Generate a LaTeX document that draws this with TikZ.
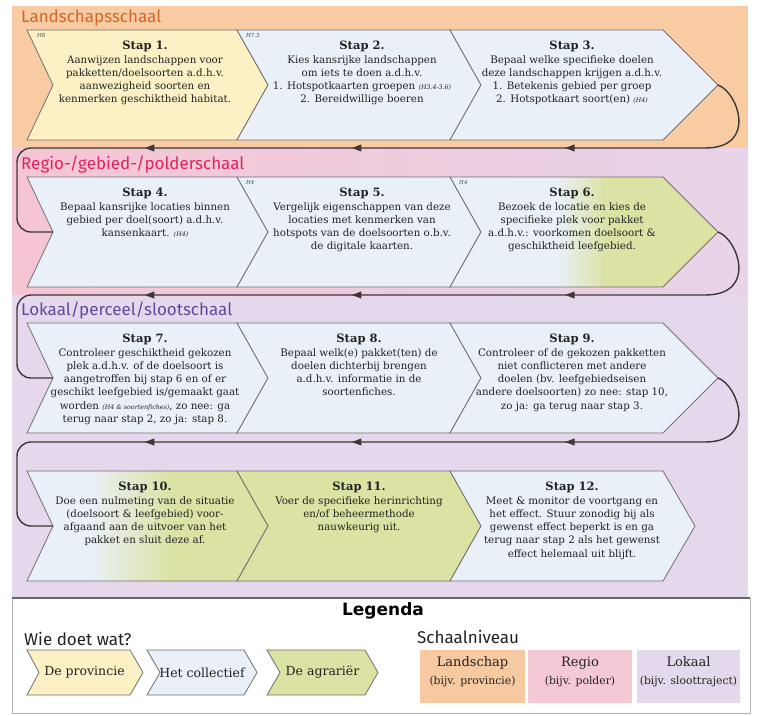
\documentclass[tikz,border=0pt]{standalone}
\usepackage{fontspec}
\setmainfont{DejaVu Serif}
\newfontfamily\lblfont{Fira Sans}
\newfontfamily\legfont{DejaVu Sans}
\usetikzlibrary{shapes.geometric}
\definecolor{cyellow}{HTML}{FCF1C4}
\definecolor{cblue}{HTML}{E9F0F8}
\definecolor{cgreen}{HTML}{DCE2A4}
\definecolor{corange}{HTML}{F8CBA2}
\definecolor{cpink}{HTML}{F5C5D4}
\definecolor{cpinklav}{HTML}{E8D3E8}
\definecolor{clav}{HTML}{E6D8EC}
\definecolor{cedge}{HTML}{707070}
\definecolor{cline}{HTML}{3E3838}
\definecolor{ctext}{HTML}{222222}
\definecolor{lblorange}{HTML}{D4652B}
\definecolor{lblpink}{HTML}{E0245E}
\definecolor{lblpurple}{HTML}{5E4B9C}
\definecolor{boxorange}{HTML}{F6C9A0}
\definecolor{boxpink}{HTML}{F5C8D6}
\definecolor{boxlav}{HTML}{E4D8EC}
\pgfdeclarehorizontalshading{sixshade}{100bp}{color(0bp)=(cblue); color(25bp)=(cblue); color(45bp)=(cblue); color(54bp)=(cgreen); color(75bp)=(cgreen); color(100bp)=(cgreen)}
\pgfdeclarehorizontalshading{tenshade}{100bp}{color(0bp)=(cblue); color(25bp)=(cblue); color(38bp)=(cblue); color(55bp)=(cgreen); color(75bp)=(cgreen); color(100bp)=(cgreen)}
% #1 style, #2 name, #3 left x, #4 notch x, #5 right x, #6 tip x, #7 top y, #8 bottom y
\newcommand\drawchev[8]{%
  \path[#1] (#3,#7) -- (#5,#7) -- (#6,{(#7+#8)/2}) -- (#5,#8) -- (#3,#8) -- (#4,{(#7+#8)/2}) -- cycle;
  \coordinate (#2-tip) at (#6,{(#7+#8)/2});
  \coordinate (#2-notch) at (#4,{(#7+#8)/2});
}
\newcommand\sttl{\fontsize{11.5}{13.3}\selectfont\bfseries}
\newcommand\hsm{\fontsize{6.3}{8}\selectfont\itshape}
\begin{document}
\begin{tikzpicture}[x=1pt,y=-1pt,
  chev/.style={draw=cedge, line width=0.8pt, line join=miter},
  yel/.style={chev, fill=cyellow},
  blu/.style={chev, fill=cblue},
  gre/.style={chev, fill=cgreen},
  six/.style={chev, shade, shading=sixshade},
  ten/.style={chev, shade, shading=tenshade},
  steptext/.style={align=center, inner sep=0pt, anchor=north, text=ctext, font=\fontsize{10.3}{13.3}\selectfont},
  conn/.style={draw=cline, line width=1.4pt},
  arrowhd/.pic={\fill[cline, sharp corners] (-5,0) -- (4.5,-3.6) -- (4.5,3.6) -- cycle;},
  hlabel/.style={font=\fontsize{5.5}{6}\selectfont\itshape, text=ctext!80, inner sep=0pt, anchor=north west},
  scalelbl/.style={font=\lblfont\fontsize{17}{19}\selectfont, anchor=west, inner sep=0pt},
  legchev/.style={align=center, inner sep=0pt, text=ctext, font=\fontsize{12.5}{14}\selectfont},
  legbox/.style={align=center, inner sep=0pt, text=ctext, font=\fontsize{13}{18.5}\selectfont}
]
\useasboundingbox (0,0) rectangle (757,715);
% bands
\fill[corange] (12,6) rectangle (748,148);
\shade[left color=cpink, right color=cpinklav] (12,148) rectangle (748,295);
\fill[clav] (12,295) rectangle (748,598);
% section labels
\node[scalelbl, text=lblorange] (lbl1) at (21,18) {Landschapsschaal};
\node[scalelbl, text=lblpink] (lbl2) at (21,164) {Regio-/gebied-/polderschaal};
\node[scalelbl, text=lblpurple] (lbl3) at (21,310) {Lokaal/perceel/slootschaal};
% row 1
\drawchev{yel}{c1}{27}{53}{237}{268}{30}{140}
\drawchev{blu}{c2}{237}{268}{450}{481}{30}{140}
\drawchev{blu}{c3}{450}{481}{663}{718}{30}{140}
% row 2
\drawchev{blu}{c4}{27}{53}{237}{268}{177}{287}
\drawchev{blu}{c5}{237}{268}{450}{481}{177}{287}
\drawchev{six}{c6}{450}{481}{663}{718}{177}{287}
% row 3
\drawchev{blu}{c7}{27}{53}{237}{268}{323}{433}
\drawchev{blu}{c8}{237}{268}{450}{481}{323}{433}
\drawchev{blu}{c9}{450}{481}{663}{718}{323}{433}
% row 4
\drawchev{ten}{c10}{27}{53}{237}{268}{471}{581}
\drawchev{gre}{c11}{237}{268}{450}{481}{471}{581}
\drawchev{blu}{c12}{450}{481}{663}{695}{471}{581}
% small chapter labels
\node[hlabel] (h1) at (37,33) {H8};
\node[hlabel] (h2) at (246,33) {H7.3};
\node[hlabel] (h3) at (246,180) {H4};
\node[hlabel] (h4) at (459,180) {H4};
% step texts
\node[steptext] (s1) at (145,41) {{\sttl Stap 1.}\\Aanwijzen landschappen voor\\pakketten/doelsoorten a.d.h.v.\\aanwezigheid soorten en\\kenmerken geschiktheid habitat.};
\node[steptext] (s2) at (362,41) {{\sttl Stap 2.}\\Kies kansrijke landschappen\\om iets te doen a.d.h.v.\\1. Hotspotkaarten groepen {\hsm (H3.4-3.6)}\\2. Bereidwillige boeren};
\node[steptext] (s3) at (572,41) {{\sttl Stap 3.}\\Bepaal welke specifieke doelen\\deze landschappen krijgen a.d.h.v.\\1. Betekenis gebied per groep\\2. Hotspotkaart soort(en) {\hsm (H4)}};
\node[steptext] (s4) at (145,188) {{\sttl Stap 4.}\\Bepaal kansrijke locaties binnen\\gebied per doel(soort) a.d.h.v.\\kansenkaart. {\hsm (H4)}};
\node[steptext] (s5) at (362,188) {{\sttl Stap 5.}\\Vergelijk eigenschappen van deze\\locaties met kenmerken van\\hotspots van de doelsoorten o.b.v.\\de digitale kaarten.};
\node[steptext] (s6) at (572,188) {{\sttl Stap 6.}\\Bezoek de locatie en kies de\\specifieke plek voor pakket\\a.d.h.v.: voorkomen doelsoort \&\\geschiktheid leefgebied.};
\node[steptext] (s7) at (145,334) {{\sttl Stap 7.}\\Controleer geschiktheid gekozen\\plek a.d.h.v. of de doelsoort is\\aangetroffen bij stap 6 en of er\\geschikt leefgebied is/gemaakt gaat\\worden {\hsm (H4 \& soortenfiches)}, zo nee: ga\\terug naar stap 2, zo ja: stap 8.};
\node[steptext] (s8) at (359,334) {{\sttl Stap 8.}\\Bepaal welk(e) pakket(ten) de\\doelen dichterbij brengen\\a.d.h.v. informatie in de\\soortenfiches.};
\node[steptext] (s9) at (572,334) {{\sttl Stap 9.}\\Controleer of de gekozen pakketten\\niet conflicteren met andere\\doelen (bv. leefgebiedseisen\\andere doelsoorten) zo nee: stap 10,\\zo ja: ga terug naar stap 3.};
\node[steptext] (s10) at (145,482) {{\sttl Stap 10.}\\Doe een nulmeting van de situatie\\(doelsoort \& leefgebied) voor-\\afgaand aan de uitvoer van het\\pakket en sluit deze af.};
\node[steptext] (s11) at (359,482) {{\sttl Stap 11.}\\Voer de specifieke herinrichting\\en/of beheermethode\\nauwkeurig uit.};
\node[steptext] (s12) at (572,482) {{\sttl Stap 12.}\\Meet \& monitor de voortgang en\\het effect. Stuur zonodig bij als\\gewenst effect beperkt is en ga\\terug naar stap 2 als het gewenst\\effect helemaal uit blijft.};
% connectors
\draw[conn] (c3-tip) .. controls +(20,7) and +(53,0) .. (705,148) [rounded corners=14pt]
  -- pic[pos=0.196]{arrowhd} pic[pos=0.506]{arrowhd} pic[pos=0.807]{arrowhd} (17,148) |- (c4-notch);
\draw[conn] (c6-tip) .. controls +(20,7) and +(53,0) .. (705,295) [rounded corners=14pt]
  -- pic[pos=0.196]{arrowhd} pic[pos=0.506]{arrowhd} pic[pos=0.807]{arrowhd} (17,295) |- (c7-notch);
\draw[conn] (c9-tip) .. controls +(20,7) and +(53,0) .. (705,442) [rounded corners=14pt]
  -- pic[pos=0.196]{arrowhd} pic[pos=0.506]{arrowhd} pic[pos=0.807]{arrowhd} (17,442) |- (c10-notch);
% legend
\draw[draw=black!30, fill=white] (12,598) rectangle (750,713);
\draw[line width=2pt, draw=black!60] (12,598) -- (750,598);
\node[font=\legfont\bfseries\fontsize{17}{19}\selectfont, inner sep=0pt] (leg) at (383,611) {Legenda};
\node[scalelbl, text=ctext] (who) at (24,639) {Wie doet wat?};
\node[scalelbl, text=ctext] (sch) at (417,637) {Schaalniveau};
\drawchev{yel}{l1}{27}{39}{130}{143}{650}{695}
\drawchev{blu}{l2}{147}{160}{244}{257}{650}{695}
\drawchev{gre}{l3}{267}{280}{365}{378}{650}{695}
\node[legchev] (lt1) at (84.5,672.5) {De provincie};
\node[legchev] (lt2) at (202,672.5) {Het collectief};
\node[legchev] (lt3) at (322.5,672.5) {De agrariër};
\fill[boxorange] (420,650) rectangle (525,703);
\fill[boxpink] (528,650) rectangle (632,703);
\fill[boxlav] (637,650) rectangle (740,703);
\node[legbox] (b1) at (472.5,672) {Landschap\\{\fontsize{10.8}{12}\selectfont (bijv. provincie)}};
\node[legbox] (b2) at (580,672) {Regio\\{\fontsize{10.8}{12}\selectfont (bijv. polder)}};
\node[legbox] (b3) at (688.5,672) {Lokaal\\{\fontsize{10.8}{12}\selectfont (bijv. sloottraject)}};
\end{tikzpicture}
\end{document}
